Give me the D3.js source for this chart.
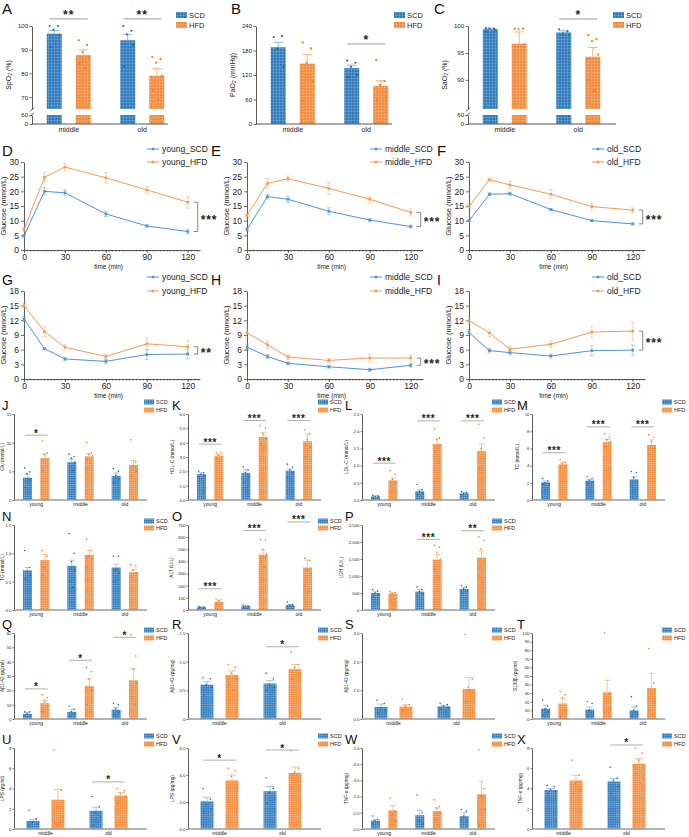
<!DOCTYPE html>
<html><head><meta charset="utf-8">
<script src="https://cdn.jsdelivr.net/npm/d3@7"></script>
<style>
body{margin:0;background:#fff}
svg{display:block;font-family:"Liberation Sans",Arial,sans-serif}
</style></head><body>
<svg id="fig" width="689" height="837"></svg>
<script>
// ---- data ----
const groups3 = ["young", "middle", "old"];
const groups2 = ["middle", "old"];
const times = [0, 15, 30, 60, 90, 120];

// each mean/err row: [SCD, HFD] for one group; pts: [SCD dots, HFD dots]
const spo2Mean = [[96.8, 87.7], [94.0, 79.0]];
const spo2Err = [[1.3, 2.2], [2.5, 3.0]];
const spo2Pts = [[[100, 100, 98.5, 96, 91], [94, 92, 89, 87, 84, 82]],
                 [[100, 98, 96.5, 92, 83], [87, 86, 84.5, 79, 73, 69]]];
const pao2Mean = [[188, 148], [137, 93]];
const pao2Err = [[12, 22], [7, 13]];
const pao2Pts = [[[213, 215, 185, 140], [200, 185, 150, 105, 58]],
                 [[155, 150, 140, 120, 115], [157, 105, 95, 65, 58]]];
const sao2Mean = [[99.4, 96.7], [98.8, 94.3]];
const sao2Err = [[0.2, 2.2], [0.3, 1.7]];
const sao2Pts = [[[99.6, 99.5, 99.5, 99.3, 99.0], [99.5, 99.5, 99.4, 96.6, 85.5]],
                 [[99.4, 99.0, 98.6, 98.4], [98.3, 97.6, 97.2, 94.7, 90, 88]]];

// OGTT (D-F) and ITT (G-I): [SCD, HFD]
const ogttYoung = [[4.8, 20, 19.5, 12.3, 8.2, 6.3], [7, 24.8, 28.3, 24.6, 20.5, 16.3]];
const ogttYoungErr = [[0.5, 1.2, 1.0, 0.9, 0.4, 0.8], [0.8, 1.6, 1.2, 1.8, 1.2, 2.0]];
const ogttMiddle = [[7, 18.2, 17.3, 13.2, 10.2, 8], [11.8, 22.7, 24.3, 21, 17.3, 12.8]];
const ogttMiddleErr = [[0.5, 0.8, 1.0, 1.2, 0.5, 0.5], [0.5, 1.6, 0.9, 2.0, 1.0, 1.2]];
const ogttOld = [[10, 19, 19.2, 13.8, 10, 8.9], [14.8, 24, 22.2, 19, 14.8, 13.6]];
const ogttOldErr = [[0.3, 0.5, 0.5, 0.3, 0.3, 0.3], [0.5, 0.5, 1.2, 1.5, 1.2, 0.8]];
const ittYoung = [[12.3, 6.2, 4.1, 3.6, 5.0, 5.1], [15, 9.7, 6.5, 4.6, 7.2, 6.6]];
const ittYoungErr = [[0.5, 0.2, 0.3, 0.4, 1.0, 1.0], [0.5, 1.0, 0.5, 0.5, 1.2, 1.2]];
const ittMiddle = [[6.5, 4.6, 3.2, 2.5, 1.9, 2.8], [9.5, 7.0, 4.5, 3.8, 4.3, 4.3]];
const ittMiddleErr = [[0.5, 0.4, 0.3, 0.3, 0.3, 0.4], [1.0, 0.8, 0.5, 0.4, 0.8, 0.6]];
const ittOld = [[9.5, 5.8, 5.4, 4.7, 5.8, 5.9], [12, 9.4, 6.1, 7.1, 9.6, 9.8]];
const ittOldErr = [[0.6, 0.5, 0.4, 0.4, 1.0, 1.0], [0.8, 0.8, 0.5, 0.6, 1.2, 1.8]];

const gluMean = [[3.9, 7.3], [6.6, 7.6], [4.2, 6.1]];
const gluErr = [[0.6, 0.8], [0.5, 0.5], [0.5, 0.8]];
const gluPts = [[[5.6, 4.9, 4.6, 3.5, 2.2], [10.3, 8.2, 7.9, 6.0, 5.1]],
                [[8.0, 7.6, 7.3, 6.6, 5.7, 5.1], [10, 8.2, 7.9, 7.7, 7.0, 6.4]],
                [[5.5, 5.0, 4.3, 3.7, 3.0], [10.5, 6.6, 6.0, 5.0, 4.2]]];
const hdlMean = [[1.8, 3.05], [1.9, 4.4], [2.05, 4.1]];
const hdlErr = [[0.1, 0.12], [0.2, 0.3], [0.12, 0.5]];
const hdlPts = [[[2.0, 1.9, 1.8, 1.7, 1.6], [3.3, 3.3, 3.1, 3.0, 2.9]],
                [[2.3, 2.1, 1.9, 1.6, 1.2], [5.2, 5.0, 4.6, 4.3, 3.9, 3.7]],
                [[2.5, 2.3, 2.1, 1.9, 1.6], [4.9, 4.6, 4.2, 3.7, 3.0]]];
const ldlMean = [[0.1, 0.57], [0.25, 1.63], [0.19, 1.43]];
const ldlErr = [[0.02, 0.07], [0.05, 0.15], [0.02, 0.2]];
const ldlPts = [[[0.14, 0.12, 0.1, 0.09, 0.07], [0.85, 0.75, 0.6, 0.5, 0.4, 0.35]],
                [[0.45, 0.3, 0.25, 0.2, 0.15], [2.07, 1.8, 1.75, 1.6, 1.4, 1.1]],
                [[0.24, 0.22, 0.2, 0.18, 0.15], [2.2, 1.8, 1.5, 1.2, 0.9]]];
const tcMean = [[2.05, 4.15], [2.25, 6.75], [2.4, 6.4]];
const tcErr = [[0.15, 0.2], [0.15, 0.3], [0.3, 0.6]];
const tcPts = [[[2.5, 2.2, 2.0, 1.9, 1.8], [4.7, 4.4, 4.2, 4.0, 3.8]],
               [[2.7, 2.5, 2.3, 2.1, 1.9], [7.7, 7.3, 7.0, 6.8, 6.2, 5.7]],
               [[3.3, 3.2, 2.6, 2.1, 1.7], [7.6, 7.3, 6.8, 6.0, 5.3]]];
const tgMean = [[0.70, 0.88], [0.78, 0.97], [0.75, 0.67]];
const tgErr = [[0.05, 0.1], [0.1, 0.08], [0.06, 0.05]];
const tgPts = [[[1.05, 0.75, 0.68, 0.62, 0.55], [1.05, 0.95, 0.75, 0.68, 0.62]],
               [[1.35, 1.0, 0.85, 0.7, 0.5, 0.4], [1.25, 1.05, 0.95, 0.9, 0.75]],
               [[0.95, 0.95, 0.7, 0.65, 0.5], [0.8, 0.78, 0.7, 0.65, 0.6]]];
const altMean = [[22, 65], [30, 455], [40, 350]];
const altErr = [[3, 8], [4, 40], [5, 60]];
const altPts = [[[28, 25, 22, 20, 18], [90, 85, 75, 55, 50]],
                [[40, 35, 30, 25, 22], [580, 575, 500, 460, 400, 350]],
                [[65, 45, 40, 30, 28], [425, 410, 330, 300, 200, 150]]];
const ldhMean = [[500, 480], [540, 1480], [620, 1540]];
const ldhErr = [[40, 30], [60, 150], [50, 200]];
const ldhPts = [[[600, 560, 500, 450, 400], [540, 520, 480, 450, 430]],
                [[680, 600, 540, 480, 420], [1900, 1850, 1700, 1500, 1200, 1000]],
                [[720, 680, 620, 560, 500], [2150, 2050, 1800, 1400, 1000, 800]]];
const abSerumMean = [[3.5, 11], [5, 23], [6.5, 27]];
const abSerumErr = [[1, 2], [1.5, 5], [1.5, 8]];
const abSerumPts = [[[5, 5, 4, 3, 2], [17, 15, 12, 9, 5]],
                    [[9, 7, 5, 4, 2], [36, 33, 28, 20, 10, 5]],
                    [[11, 10, 7, 5, 3], [59, 44, 35, 25, 15, 10]]];
const abBrainMean = [[0.6, 0.77], [0.62, 0.87]];
const abBrainErr = [[0.05, 0.07], [0.05, 0.08]];
const abBrainPts = [[[0.72, 0.7, 0.6, 0.55, 0.4], [0.95, 0.9, 0.8, 0.7, 0.6, 0.5]],
                    [[0.8, 0.7, 0.6, 0.55, 0.5], [1.17, 0.95, 0.9, 0.8, 0.7]]];
const abGutMean = [[0.42, 0.43], [0.44, 1.05]];
const abGutErr = [[0.1, 0.07], [0.04, 0.4]];
const abGutPts = [[[0.65, 0.55, 0.4, 0.3, 0.2], [0.7, 0.5, 0.45, 0.35, 0.3]],
                  [[0.55, 0.5, 0.45, 0.4, 0.35], [2.95, 1.4, 1.1, 0.9, 0.6]]];
const s100Mean = [[12, 18], [11, 31], [10, 36]];
const s100Err = [[4, 6], [3, 14], [4, 17]];
const s100Pts = [[[22, 15, 12, 8, 5], [32, 28, 25, 10, 2]],
                 [[20, 18, 10, 5, 3], [100, 30, 20, 12, 8]],
                 [[26, 15, 10, 5, 3], [82, 42, 30, 20, 10, 5]]];
const lpsSerumMean = [[0.8, 2.9], [1.8, 3.3]];
const lpsSerumErr = [[0.15, 1.0], [0.35, 0.3]];
const lpsSerumPts = [[[1.85, 1.0, 0.7, 0.5, 0.3], [7.8, 3.8, 2.2, 1.2, 0.6]],
                     [[3.2, 2.2, 1.6, 1.2, 0.4], [4.0, 3.8, 3.5, 3.2, 2.5]]];
const lpsTissueMean = [[2.05, 3.6], [2.8, 4.15]];
const lpsTissueErr = [[0.3, 0.4], [0.35, 0.45]];
const lpsTissuePts = [[[3.0, 2.2, 1.8, 1.5, 1.3], [4.5, 4.3, 3.9, 3.0, 2.0]],
                      [[3.8, 3.0, 2.7, 2.2, 1.9], [5.8, 4.5, 4.2, 3.5, 3.0]]];
const tnfBrainMean = [[0.52, 1.15], [0.85, 1.1], [0.8, 2.15]];
const tnfBrainErr = [[0.08, 0.3], [0.3, 0.2], [0.2, 0.8]];
const tnfBrainPts = [[[0.8, 0.6, 0.5, 0.4, 0.3], [1.9, 1.1, 0.9, 0.5]],
                     [[2.1, 1.0, 0.5, 0.3], [1.8, 1.4, 1.3, 1.0, 0.6]],
                     [[1.2, 1.1, 0.8, 0.5], [4.9, 2.5, 2.0, 1.2, 0.2]]];
const tnfGutMean = [[3.85, 4.8], [4.7, 6.45]];
const tnfGutErr = [[0.15, 0.5], [0.3, 0.5]];
const tnfGutPts = [[[4.3, 4.2, 3.9, 3.7, 3.5], [6.8, 5.3, 4.5, 3.8, 3.5]],
                   [[6.1, 5.0, 4.8, 4.2, 3.5], [8.0, 7.5, 6.8, 6.0, 5.5, 4.5]]];

// ---- styles ----
const series = ["SCD", "HFD"];
const barBase = ["#2f7bbd", "#f28b3c"];
const dotCol = ["#1f6aac", "#f27a1c"];
const errCol = ["#8bbbe3", "#f8b47c"];
const lineCol = ["#4f94d4", "#f59a55"];
const jit = [-0.3, 0.25, -0.05, 0.35, -0.25, 0.1, -0.38, 0.05];

const svg = d3.select("#fig");
const defs = svg.append("defs");
function pattern(id, base, sp) {
  const p = defs.append("pattern").attr("id", id)
    .attr("patternUnits", "userSpaceOnUse").attr("width", sp).attr("height", sp);
  p.append("rect").attr("width", sp).attr("height", sp).attr("fill", base);
  p.append("path").attr("d", `M0 0.4H${sp}M0.4 0V${sp}`)
    .attr("stroke", "#fff").attr("stroke-opacity", 0.25).attr("stroke-width", 0.7);
}
barBase.forEach((c, i) => { pattern("pat" + i, c, 3); pattern("patS" + i, c, 2.2); });

function letter(t, x, y, fs) {
  svg.append("text").attr("x", x).attr("y", y).attr("font-size", fs || 15).attr("fill", "#111").text(t);
}

function ylabel(g, x, y, txt, fs) {
  const t = g.append("text").attr("transform", `translate(${x},${y}) rotate(-90)`)
    .attr("text-anchor", "middle").attr("font-size", fs).attr("fill", "#222");
  // "_2" marks a subscript 2
  txt.split(/(_\d)/).forEach(s => {
    if (s.startsWith("_")) t.append("tspan").attr("font-size", fs * 0.7).attr("dy", fs * 0.25).text(s.slice(1));
    else if (s) t.append("tspan").attr("dy", t.selectAll("tspan").size() ? -fs * 0.25 : 0).text(s);
  });
}

function styleAxis(a, fs) {
  a.selectAll("path.domain").attr("stroke", "#333").attr("stroke-width", 0.8);
  a.selectAll(".tick line").attr("stroke", "#333").attr("stroke-width", 0.7);
  a.selectAll("text").attr("font-size", fs).attr("fill", "#222").attr("font-family", null);
}
function maxTextW(a) {
  return d3.max(a.selectAll("text").nodes(), n => n.getBBox().width) || 0;
}

function barPanel(p) {
  const g = svg.append("g");
  const x = d3.scaleBand().domain(p.groups).range([p.x0, p.x0 + p.band]);
  const cx = (i, s) => x(p.groups[i]) + x.bandwidth() / 2 + (s ? p.off : -p.off);
  const tickSize = p.small ? 1.5 : 2.5, pad = p.small ? 1 : 1.5;
  let yv, tw;
  const fill = s => `url(#${p.small ? "patS" : "pat"}${s})`;
  if (p.broken) {
    const b = p.broken;
    const yHi = d3.scaleLinear().domain(b.hi).range([b.yCut, p.y0]);
    const yLo = d3.scaleLinear().domain(b.lo).range([p.y1, b.yLo]);
    yv = yHi;
    const aH = g.append("g").attr("transform", `translate(${p.x0},0)`)
      .call(d3.axisLeft(yHi).tickValues(p.ticks).tickSize(tickSize).tickSizeOuter(0).tickPadding(pad));
    const aL = g.append("g").attr("transform", `translate(${p.x0},0)`)
      .call(d3.axisLeft(yLo).tickValues(b.lo).tickSize(tickSize).tickSizeOuter(0).tickPadding(pad));
    styleAxis(aH, p.tickFs); styleAxis(aL, p.tickFs);
    tw = maxTextW(aH);
    g.append("path").attr("d", `M${p.x0 - 2},${b.yCut + 2.5}L${p.x0 + 2},${b.yCut - 1.5}M${p.x0 - 2},${b.yLo + 1.5}L${p.x0 + 2},${b.yLo - 2.5}`)
      .attr("stroke", "#333").attr("stroke-width", 0.8);
    p.mean.forEach((m, i) => m.forEach((v, s) => {
      g.append("rect").attr("x", cx(i, s) - p.barW / 2).attr("width", p.barW)
        .attr("y", yHi(v)).attr("height", b.yCut - yHi(v)).attr("fill", fill(s));
      g.append("rect").attr("x", cx(i, s) - p.barW / 2).attr("width", p.barW)
        .attr("y", b.yLo).attr("height", p.y1 - b.yLo).attr("fill", fill(s));
    }));
  } else {
    const y = d3.scaleLinear().domain(p.domain).range([p.y1, p.y0]);
    yv = y;
    const a = g.append("g").attr("transform", `translate(${p.x0},0)`)
      .call(d3.axisLeft(y).tickValues(p.ticks).tickFormat(p.fmt || null)
        .tickSize(tickSize).tickSizeOuter(0).tickPadding(pad));
    styleAxis(a, p.tickFs);
    tw = maxTextW(a);
    p.mean.forEach((m, i) => m.forEach((v, s) => {
      g.append("rect").attr("x", cx(i, s) - p.barW / 2).attr("width", p.barW)
        .attr("y", y(v)).attr("height", p.y1 - y(v)).attr("fill", fill(s));
    }));
  }
  // x axis line + labels
  g.append("line").attr("x1", p.x0).attr("x2", p.x0 + p.w).attr("y1", p.y1).attr("y2", p.y1)
    .attr("stroke", p.small ? "#9a9a9a" : "#555").attr("stroke-width", p.small ? 1.6 : 1);
  p.groups.forEach((gr, i) => {
    g.append("text").attr("x", x(gr) + x.bandwidth() / 2).attr("y", p.y1 + p.xlabDy)
      .attr("text-anchor", "middle").attr("font-size", p.xFs).attr("fill", "#222").text(gr);
  });
  // error bars
  p.err.forEach((e, i) => e.forEach((v, s) => {
    const top = yv(p.mean[i][s] + v), base = yv(p.mean[i][s]);
    const cw = p.barW * 0.32;
    g.append("path").attr("d", `M${cx(i, s)},${base}V${top}M${cx(i, s) - cw},${top}H${cx(i, s) + cw}`)
      .attr("stroke", errCol[s]).attr("stroke-width", p.small ? 0.8 : 1).attr("fill", "none");
  }));
  // dots
  p.pts.forEach((pp, i) => pp.forEach((arr, s) => arr.forEach((v, j) => {
    g.append("circle").attr("cx", cx(i, s) + jit[j % jit.length] * p.barW).attr("cy", yv(v))
      .attr("r", p.small ? 0.8 : 1.1).attr("fill", dotCol[s]);
  })));
  // significance
  (p.sig || []).forEach(d => {
    const yy = yv(d.v);
    g.append("line").attr("x1", cx(d.g, 0) - p.barW * 0.3).attr("x2", cx(d.g, 1) + p.barW * 0.3)
      .attr("y1", yy).attr("y2", yy).attr("stroke", "#9a9a9a").attr("stroke-width", p.small ? 0.8 : 1);
    g.append("text").attr("x", (cx(d.g, 0) + cx(d.g, 1)) / 2).attr("y", yy + p.starDy)
      .attr("text-anchor", "middle").attr("font-size", p.starFs).attr("letter-spacing", p.small ? 0.6 : 1)
      .attr("font-weight", "bold").attr("fill", "#222").text(d.t);
  });
  // legend
  series.forEach((s, k) => {
    const ly = p.legY[k];
    g.append("rect").attr("x", p.legX).attr("y", ly - p.legH / 2).attr("width", p.legW).attr("height", p.legH)
      .attr("fill", fill(k));
    g.append("text").attr("x", p.legX + p.legW + 2).attr("y", ly).attr("dominant-baseline", "central")
      .attr("font-size", p.legFs).attr("fill", "#222").text(s);
  });
  const lx = Math.max(p.x0 - tickSize - pad - tw - p.ylabGap, p.yFs * 0.75 + 1.5);
  ylabel(g, lx, (p.y0 + p.y1) / 2, p.ylab, p.yFs);
}

function linePanel(p) {
  const g = svg.append("g");
  const x = d3.scaleLinear().domain([0, 129]).range([p.x0, p.x0 + 176]);
  const y = d3.scaleLinear().domain([0, p.ymax]).range([p.y1, p.y0]);
  const ay = g.append("g").attr("transform", `translate(${p.x0},0)`)
    .call(d3.axisLeft(y).tickValues(d3.range(0, p.ymax + 0.01, p.step)).tickSize(3).tickSizeOuter(0).tickPadding(2));
  const ax = g.append("g").attr("transform", `translate(0,${p.y1})`)
    .call(d3.axisBottom(x).tickValues([0, 30, 60, 90, 120]).tickSize(3).tickSizeOuter(0).tickPadding(1.2));
  styleAxis(ay, 8.5); styleAxis(ax, 8.5);
  g.append("g").selectAll("line").data(d3.range(2.5, 129, 2.5)).join("line")
    .attr("x1", d => x(d)).attr("x2", d => x(d)).attr("y1", p.y1).attr("y2", p.y1 + 1.6)
    .attr("stroke", "#333").attr("stroke-width", 0.6);
  g.append("text").attr("x", x(62)).attr("y", p.y1 + 19).attr("text-anchor", "middle")
    .attr("font-size", 6.5).attr("fill", "#222").text("time (min)");
  ylabel(g, p.x0 - 16, (p.y0 + p.y1) / 2, "Glucose (mmol/L)", 7.5);
  const line = d3.line().x((d, i) => x(times[i])).y(d => y(d));
  p.data.forEach((vals, s) => {
    g.append("path").attr("d", line(vals)).attr("fill", "none").attr("stroke", lineCol[s]).attr("stroke-width", 1);
    vals.forEach((v, i) => {
      const e = p.err[s][i], xx = x(times[i]);
      g.append("path").attr("d", `M${xx},${y(v - e)}V${y(v + e)}M${xx - 2},${y(v + e)}H${xx + 2}M${xx - 2},${y(v - e)}H${xx + 2}`)
        .attr("stroke", lineCol[s]).attr("stroke-opacity", 0.55).attr("stroke-width", 0.8);
      g.append("rect").attr("x", xx - 1.3).attr("y", y(v) - 1.3).attr("width", 2.6).attr("height", 2.6).attr("fill", lineCol[s]);
    });
  });
  // legend
  p.names.forEach((n, s) => {
    const ly = p.legY[s];
    g.append("line").attr("x1", p.legX).attr("x2", p.legX + 12).attr("y1", ly).attr("y2", ly).attr("stroke", lineCol[s]);
    g.append("rect").attr("x", p.legX + 4.7).attr("y", ly - 1.3).attr("width", 2.6).attr("height", 2.6).attr("fill", lineCol[s]);
    g.append("text").attr("x", p.legX + 15).attr("y", ly).attr("dominant-baseline", "central")
      .attr("font-size", 8.5).attr("fill", "#222").text(n);
  });
  // bracket at 120 min
  const bx = x(120) + 10, ya = y(p.data[1][5]), yb = y(p.data[0][5]);
  g.append("path").attr("d", `M${bx - 4},${ya}H${bx}V${yb}H${bx - 4}`).attr("fill", "none")
    .attr("stroke", "#777").attr("stroke-width", 0.9);
  g.append("text").attr("x", bx + 3).attr("y", (ya + yb) / 2 + 6.8).attr("font-size", 12)
    .attr("letter-spacing", 0.8).attr("font-weight", "bold").attr("fill", "#222").text(p.sig);
}

// ---- top row A-C ----
const topCommon = { groups: groups2, y0: 26, y1: 124, band: 147, off: 14.5, barW: 15, tickFs: 6,
  xFs: 7, xlabDy: 8, starFs: 12, starDy: 0.5, legW: 11, legH: 6, legFs: 7.5, legY: [15, 25], yFs: 7, ylabGap: 5 };
barPanel({ ...topCommon, x0: 32, w: 136, mean: spo2Mean, err: spo2Err, pts: spo2Pts,
  broken: { hi: [65, 100], lo: [0, 60], yCut: 109, yLo: 115 }, ticks: [70, 80, 90, 100],
  sig: [{ g: 0, v: 103, t: "**" }, { g: 1, v: 103, t: "**" }], legX: 176, ylab: "SpO_2 (%)" });
barPanel({ ...topCommon, x0: 256, w: 136, mean: pao2Mean, err: pao2Err, pts: pao2Pts,
  domain: [0, 240], ticks: [0, 60, 120, 180, 240],
  sig: [{ g: 1, v: 196, t: "*" }], legX: 394, ylab: "PaO_2 (mmHg)" });
barPanel({ ...topCommon, x0: 468, w: 148, mean: sao2Mean, err: sao2Err, pts: sao2Pts,
  broken: { hi: [84.6, 100], lo: [0, 60], yCut: 109, yLo: 115 }, ticks: [90, 95, 100],
  sig: [{ g: 1, v: 101.3, t: "*" }], legX: 613, ylab: "SaO_2 (%)" });
letter("A", 2, 14); letter("B", 231, 14); letter("C", 434, 14);

// ---- line rows D-I ----
const xs = [24, 247, 469], legXs = [147, 370, 592];
const ogtt = [[ogttYoung, ogttYoungErr, "young"], [ogttMiddle, ogttMiddleErr, "middle"], [ogttOld, ogttOldErr, "old"]];
const itt = [[ittYoung, ittYoungErr, "young"], [ittMiddle, ittMiddleErr, "middle"], [ittOld, ittOldErr, "old"]];
const ogttSig = ["***", "***", "***"], ittSig = ["**", "***", "***"];
ogtt.forEach((d, i) => linePanel({ x0: xs[i], y0: 162, y1: 250, ymax: 30, step: 5, data: d[0], err: d[1],
  names: [d[2] + "_SCD", d[2] + "_HFD"], legX: legXs[i], legY: [149, 162], sig: ogttSig[i] }));
itt.forEach((d, i) => linePanel({ x0: xs[i], y0: 291, y1: 379, ymax: 18, step: 3, data: d[0], err: d[1],
  names: [d[2] + "_SCD", d[2] + "_HFD"], legX: legXs[i], legY: [277, 291], sig: ittSig[i] }));
["D", "E", "F"].forEach((t, i) => letter(t, [2, 211, 437][i], 156));
["G", "H", "I"].forEach((t, i) => letter(t, [2, 211, 437][i], 285, 14));

// ---- small bar rows J-X ----
const colX = [14, 188, 362, 532];
const rows = [{ y0: 414, y1: 500, legY: [402, 410], lt: 410 }, { y0: 525, y1: 610, legY: [521, 528], lt: 521 },
  { y0: 633, y1: 719, legY: [630, 638], lt: 629 }, { y0: 748, y1: 829, legY: [736, 744], lt: 744 }];
const smallCommon = { small: true, barW: 9, tickFs: 4.3, xFs: 5, xlabDy: 5.5, starFs: 10, starDy: 1.5, legW: 10, legH: 5,
  legFs: 5.5, yFs: 4.8, ylabGap: 3.5 };
function small(r, c, extra) {
  const two = extra.groups === groups2;
  barPanel({ ...smallCommon, x0: colX[c], y0: rows[r].y0, y1: rows[r].y1, legY: rows[r].legY,
    legX: colX[c] + 130, w: 133, band: two ? 126 : 133, off: two ? 12.5 : 8.7, barW: two ? 13 : 9, ...extra });
}
const f1 = d3.format(".1f");
small(0, 0, { groups: groups3, mean: gluMean, err: gluErr, pts: gluPts, domain: [0, 15], ticks: [0, 5, 10, 15],
  sig: [{ g: 0, v: 11.3, t: "*" }], ylab: "Glu (mmol/L)" });
small(0, 1, { groups: groups3, mean: hdlMean, err: hdlErr, pts: hdlPts, domain: [0, 6], ticks: d3.range(0, 7),
  sig: [{ g: 0, v: 3.9, t: "***" }, { g: 1, v: 5.55, t: "***" }, { g: 2, v: 5.55, t: "***" }], ylab: "HDL-C (mmol/L)" });
small(0, 2, { groups: groups3, mean: ldlMean, err: ldlErr, pts: ldlPts, domain: [0, 2.5], ticks: [0, 0.5, 1, 1.5, 2, 2.5], fmt: f1,
  sig: [{ g: 0, v: 1.07, t: "***" }, { g: 1, v: 2.3, t: "***" }, { g: 2, v: 2.3, t: "***" }], ylab: "LDL-C (mmol/L)" });
small(0, 3, { groups: groups3, mean: tcMean, err: tcErr, pts: tcPts, domain: [0, 10], ticks: [0, 2, 4, 6, 8, 10],
  sig: [{ g: 0, v: 5.5, t: "***" }, { g: 1, v: 8.5, t: "***" }, { g: 2, v: 8.5, t: "***" }], ylab: "TC (mmol/L)" });
small(1, 0, { groups: groups3, mean: tgMean, err: tgErr, pts: tgPts, domain: [0, 1.5], ticks: [0, 0.5, 1, 1.5], fmt: f1,
  ylab: "TG (mmol/L)" });
small(1, 1, { groups: groups3, mean: altMean, err: altErr, pts: altPts, domain: [0, 700], ticks: d3.range(0, 701, 100),
  sig: [{ g: 0, v: 175, t: "***" }, { g: 1, v: 655, t: "***" }, { g: 2, v: 725, t: "***" }], ylab: "ALT (U/L)" });
small(1, 2, { groups: groups3, mean: ldhMean, err: ldhErr, pts: ldhPts, domain: [0, 2500], ticks: d3.range(0, 2501, 500),
  sig: [{ g: 1, v: 2080, t: "***" }, { g: 2, v: 2330, t: "**" }], ylab: "LDH (U/L)" });
small(2, 0, { groups: groups3, mean: abSerumMean, err: abSerumErr, pts: abSerumPts, domain: [0, 60], ticks: d3.range(0, 61, 10),
  sig: [{ g: 0, v: 21, t: "*" }, { g: 1, v: 41, t: "*" }, { g: 2, v: 57, t: "*" }], ylab: "Aβ1-42 (pg/ml)" });
small(2, 1, { groups: groups2, mean: abBrainMean, err: abBrainErr, pts: abBrainPts, domain: [0, 1.5], ticks: [0, 0.5, 1, 1.5],
  fmt: d => d ? f1(d) : "0", sig: [{ g: 1, v: 1.26, t: "*" }], ylab: "Aβ1-42 (pg/mg)" });
small(2, 2, { groups: groups2, mean: abGutMean, err: abGutErr, pts: abGutPts, domain: [0, 3], ticks: [0, 1, 2, 3],
  ylab: "Aβ1-42 (pg/mg)" });
small(2, 3, { groups: groups3, mean: s100Mean, err: s100Err, pts: s100Pts, domain: [0, 100], ticks: d3.range(0, 101, 10),
  ylab: "S100β (pg/ml)" });
small(3, 0, { groups: groups2, mean: lpsSerumMean, err: lpsSerumErr, pts: lpsSerumPts, domain: [0, 8], ticks: [0, 2, 4, 6, 8],
  sig: [{ g: 1, v: 4.65, t: "*" }], ylab: "LPS (pg/ml)" });
small(3, 1, { groups: groups2, mean: lpsTissueMean, err: lpsTissueErr, pts: lpsTissuePts, domain: [0, 6], ticks: [0, 2, 4, 6],
  sig: [{ g: 0, v: 5.1, t: "*" }, { g: 1, v: 5.85, t: "*" }], ylab: "LPS (pg/mg)" });
small(3, 2, { groups: groups3, mean: tnfBrainMean, err: tnfBrainErr, pts: tnfBrainPts, domain: [0, 5], ticks: [0, 1, 2, 3, 4, 5],
  ylab: "TNF-α (pg/mg)" });
small(3, 3, { groups: groups2, mean: tnfGutMean, err: tnfGutErr, pts: tnfGutPts, domain: [0, 8], ticks: [0, 2, 4, 6, 8],
  sig: [{ g: 1, v: 8.3, t: "*" }], ylab: "TNF-α (pg/mg)" });
const lettersSmall = [["J", "K", "L", "M"], ["N", "O", "P"], ["Q", "R", "S", "T"], ["U", "V", "W", "X"]];
lettersSmall.forEach((row, r) => row.forEach((t, c) => letter(t, [2, 172, 345, 517][c], rows[r].lt, 13)));
</script>
</body></html>
